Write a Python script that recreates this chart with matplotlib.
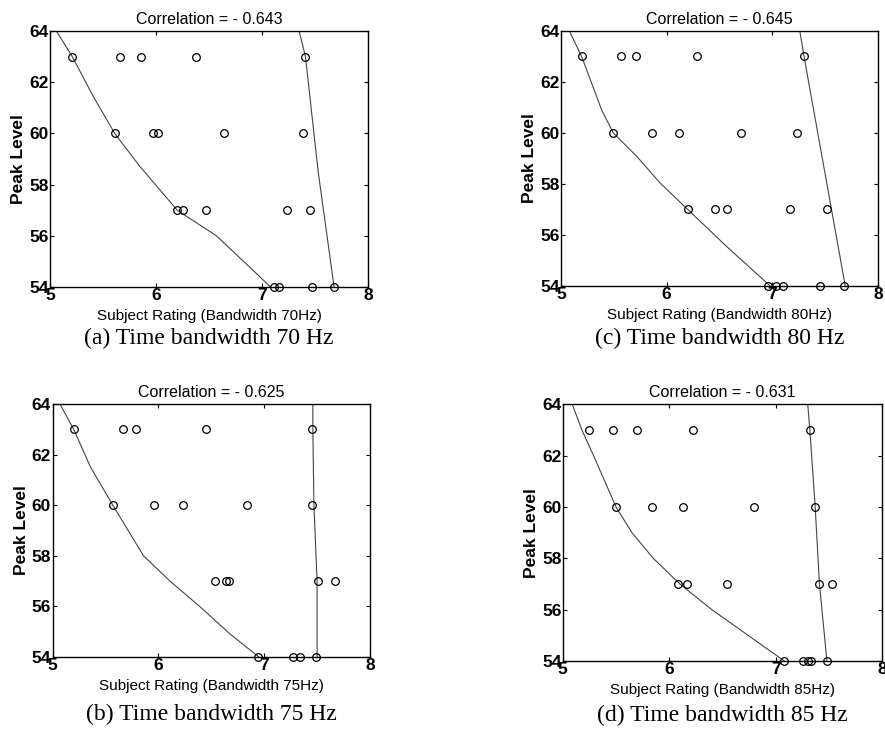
import numpy as np
import matplotlib.pyplot as plt

plt.rcParams['font.family'] = ['Liberation Sans', 'DejaVu Sans']

# panel (a) 70 Hz
rating_a = [5.21, 5.66, 5.86, 6.38, 7.41, 5.61, 5.97, 6.02, 6.64, 7.39,
            6.20, 6.25, 6.47, 7.24, 7.45, 7.11, 7.16, 7.47, 7.68]
level_a = [63, 63, 63, 63, 63, 60, 60, 60, 60, 60,
           57, 57, 57, 57, 57, 54, 54, 54, 54]
fit_a_x = [5.06, 5.21, 5.41, 5.61, 5.85, 6.20, 6.57, 6.98, 7.08]
fit_a_y = [64, 63, 61.43, 60, 58.7, 57, 56, 54.4, 54]
bound_a_x = [7.35, 7.41, 7.53, 7.68]
bound_a_y = [64, 63, 58.5, 54]

# panel (b) 75 Hz
rating_b = [5.20, 5.67, 5.79, 6.45, 7.455, 5.57, 5.96, 6.235, 6.84, 7.455,
            6.54, 6.64, 6.67, 7.51, 7.67, 6.94, 7.27, 7.34, 7.49]
level_b = [63, 63, 63, 63, 63, 60, 60, 60, 60, 60,
           57, 57, 57, 57, 57, 54, 54, 54, 54]
fit_b_x = [5.07, 5.20, 5.36, 5.57, 5.86, 6.11, 6.39, 6.68, 6.95]
fit_b_y = [64, 63, 61.5, 60, 58, 57, 56, 54.9, 54]
bound_b_x = [7.46, 7.46, 7.47, 7.50, 7.50]
bound_b_y = [64, 63, 60, 57, 54]

# panel (c) 80 Hz
rating_c = [5.195, 5.567, 5.706, 6.283, 7.30, 5.495, 5.864, 6.116, 6.70, 7.23,
            6.20, 6.46, 6.57, 7.165, 7.52, 6.96, 7.03, 7.10, 7.45, 7.68]
level_c = [63, 63, 63, 63, 63, 60, 60, 60, 60, 60,
           57, 57, 57, 57, 57, 54, 54, 54, 54, 54]
fit_c_x = [5.08, 5.195, 5.29, 5.385, 5.495, 5.72, 5.94, 6.20, 6.57, 6.98]
fit_c_y = [64, 63, 61.95, 60.9, 60, 59.07, 58.03, 57, 55.54, 54]
bound_c_x = [7.26, 7.30, 7.69]
bound_c_y = [64, 63, 54]

# panel (d) 85 Hz
rating_d = [5.25, 5.475, 5.70, 6.22, 7.32, 5.50, 5.84, 6.13, 6.80, 7.37,
            6.08, 6.17, 6.54, 7.405, 7.53, 7.08, 7.26, 7.30, 7.33, 7.48]
level_d = [63, 63, 63, 63, 63, 60, 60, 60, 60, 60,
           57, 57, 57, 57, 57, 54, 54, 54, 54, 54]
fit_d_x = [5.09, 5.18, 5.29, 5.50, 5.65, 5.85, 6.10, 6.40, 6.74, 7.08]
fit_d_y = [64, 63, 62, 60, 59, 58, 57, 56, 55, 54]
bound_d_x = [7.30, 7.32, 7.37, 7.41, 7.48]
bound_d_y = [64, 63, 60, 57, 54]

titles = ['Correlation = - 0.643', 'Correlation = - 0.625',
          'Correlation = - 0.645', 'Correlation = - 0.631']
xlabels = ['Subject Rating (Bandwidth 70Hz)', 'Subject Rating (Bandwidth 75Hz)',
           'Subject Rating (Bandwidth 80Hz)', 'Subject Rating (Bandwidth 85Hz)']
captions = ['(a) Time bandwidth 70 Hz', '(b) Time bandwidth 75 Hz',
            '(c) Time bandwidth 80 Hz', '(d) Time bandwidth 85 Hz']
xticks = [5, 6, 7, 8]
yticks = [54, 56, 58, 60, 62, 64]

W, H = 885, 734
fig = plt.figure(figsize=(W/100, H/100), dpi=100)

# axes boxes in pixels: left, top, right, bottom
boxes = [(50, 31, 368, 287), (52.5, 404, 370, 657),
         (561, 31, 878, 286), (562.7, 404.3, 882.3, 661)]
caption_y = [338, 714, 338, 715]

panels = [(rating_a, level_a, fit_a_x, fit_a_y, bound_a_x, bound_a_y),
          (rating_b, level_b, fit_b_x, fit_b_y, bound_b_x, bound_b_y),
          (rating_c, level_c, fit_c_x, fit_c_y, bound_c_x, bound_c_y),
          (rating_d, level_d, fit_d_x, fit_d_y, bound_d_x, bound_d_y)]

for i, (rx, ly, fx, fy, bx, by) in enumerate(panels):
    l, t, r, b = boxes[i]
    ax = fig.add_axes([l/W, 1 - b/H, (r - l)/W, (b - t)/H])
    ax.plot(fx, fy, '-', color='#444444', lw=0.8)
    ax.plot(bx, by, '-', color='#444444', lw=0.8)
    ax.plot(rx, ly, 'o', mfc='none', mec='k', ms=5.5, mew=0.9, clip_on=False)
    ax.set_xlim(5, 8)
    ax.set_ylim(54, 64)
    ax.set_xticks(xticks)
    ax.set_yticks(yticks)
    ax.tick_params(direction='in', top=True, right=True, length=3, width=0.8,
                   pad=1, labelsize=12.5)
    for lab in ax.get_xticklabels() + ax.get_yticklabels():
        lab.set_fontweight('bold')
    for s in ax.spines.values():
        s.set_linewidth(1.0)
    ax.set_title(titles[i], fontsize=11.5, pad=5)
    ax.set_xlabel(xlabels[i], fontsize=11, labelpad=4)
    ax.set_ylabel('Peak Level', fontsize=12.5, fontweight='bold', labelpad=2)
    fig.text((l + r)/2/W, 1 - caption_y[i]/H, captions[i], ha='center', va='center',
             fontsize=17, family=['Liberation Serif', 'DejaVu Serif'])

fig.savefig('out.png', dpi=100)
